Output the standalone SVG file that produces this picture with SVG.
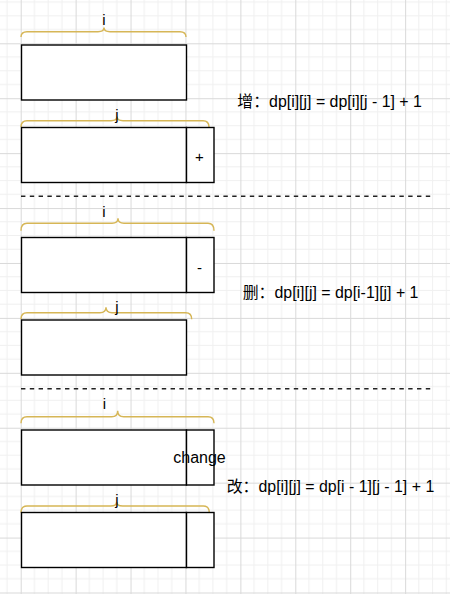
<svg xmlns="http://www.w3.org/2000/svg" width="450" height="594" viewBox="0 0 450 594">
<defs>
<pattern id="grid" patternUnits="userSpaceOnUse" x="20.7" y="43.3" width="54.92" height="54.92">
<path d="M13.73 0V54.92M27.46 0V54.92M41.19 0V54.92M0 13.73H54.92M0 27.46H54.92M0 41.19H54.92" stroke="#f0f0f0" stroke-width="1" fill="none"/>
<path d="M0.5 0V54.92M0 0.5H54.92" stroke="#d9d9d9" stroke-width="1" fill="none"/>
</pattern>
</defs>
<style>
.box{fill:#fff;stroke:#000;stroke-width:1.4}
.brace{fill:none;stroke:#d6b656;stroke-width:1.4}
.lbl{font-family:"Liberation Sans",Arial,sans-serif;font-size:15px;fill:#000;text-anchor:middle}
.f{font-family:"Liberation Sans","Noto Sans CJK SC",sans-serif;font-size:15.9px;fill:#000}
.sep{stroke:#222;stroke-width:1.6;stroke-dasharray:4.4 4.4;fill:none}
</style>
<rect width="450" height="594" fill="#fff"/>
<rect width="450" height="594" fill="url(#grid)"/>

<g id="connectors">
<line class="sep" x1="21" y1="196.3" x2="432" y2="196.3"/>
<line class="sep" x1="21" y1="388.7" x2="432" y2="388.7"/>
</g>

<g id="add-i">
<path class="brace" d="M21 37 Q21 31.7 27 31.7 L98 31.7 Q104 31.7 104 27.5 Q104 31.7 110 31.7 L180 31.7 Q186 31.7 186 37"/>
<text class="lbl" x="104" y="25">i</text>
<rect class="box" x="21.5" y="45" width="165" height="55"/>
</g>
<g id="add-j">
<path class="brace" d="M21 127 Q21 120.7 27 120.7 L111 120.7 Q117 120.7 117 116.5 Q117 120.7 123 120.7 L203 120.7 Q209 120.7 209 127"/>
<text class="lbl" x="117" y="120">j</text>
<rect class="box" x="21.5" y="127.5" width="165" height="55"/>
<rect class="box" x="186.5" y="127.5" width="27.5" height="55"/>
<text class="lbl" x="199.5" y="161.7">+</text>
</g>
<g id="add-formula">
<text class="f" x="237.3" y="106.5">增：dp[i][j] = dp[i][j - 1] + 1</text>
</g>

<g id="del-i">
<path class="brace" d="M21 230.7 Q21 223.3 27 223.3 L112 223.3 Q118 223.3 118 218.3 Q118 223.3 124 223.3 L208 223.3 Q214 223.3 214 230.7"/>
<text class="lbl" x="104" y="216.7">i</text>
<rect class="box" x="21.5" y="237.5" width="165" height="55"/>
<rect class="box" x="186.5" y="237.5" width="27.5" height="55"/>
<text class="lbl" x="199.5" y="272.5">-</text>
</g>
<g id="del-j">
<path class="brace" d="M21 319.3 Q21 312.7 27 312.7 L100 312.7 Q106 312.7 106 307.3 Q106 312.7 112 312.7 L185.7 312.7 Q191.7 312.7 191.7 319.3"/>
<text class="lbl" x="117" y="312">j</text>
<rect class="box" x="21.5" y="320" width="165" height="55"/>
</g>
<g id="del-formula">
<text class="f" x="242.7" y="298.3">删：dp[i][j] = dp[i-1][j] + 1</text>
</g>

<g id="chg-i">
<path class="brace" d="M21 423.3 Q21 416.7 27 416.7 L111.7 416.7 Q117.7 416.7 117.7 410.7 Q117.7 416.7 123.7 416.7 L208 416.7 Q214 416.7 214 423.3"/>
<text class="lbl" x="104.3" y="409">i</text>
<rect class="box" x="21.5" y="430" width="165" height="55"/>
<rect class="box" x="186.5" y="430" width="27.5" height="55"/>
<text class="lbl" x="199.5" y="463.3" style="font-size:16px">change</text>
</g>
<g id="chg-j">
<path class="brace" d="M21 512.7 Q21 506 27 506 L110.7 506 Q116.7 506 116.7 501.7 Q116.7 506 122.7 506 L203.3 506 Q209.3 506 209.3 512.7"/>
<text class="lbl" x="117" y="505">j</text>
<rect class="box" x="21.5" y="512.5" width="165" height="55"/>
<rect class="box" x="186.5" y="512.5" width="27.5" height="55"/>
</g>
<g id="chg-formula">
<text class="f" x="226.7" y="491.5">改：dp[i][j] = dp[i - 1][j - 1] + 1</text>
</g>
</svg>
